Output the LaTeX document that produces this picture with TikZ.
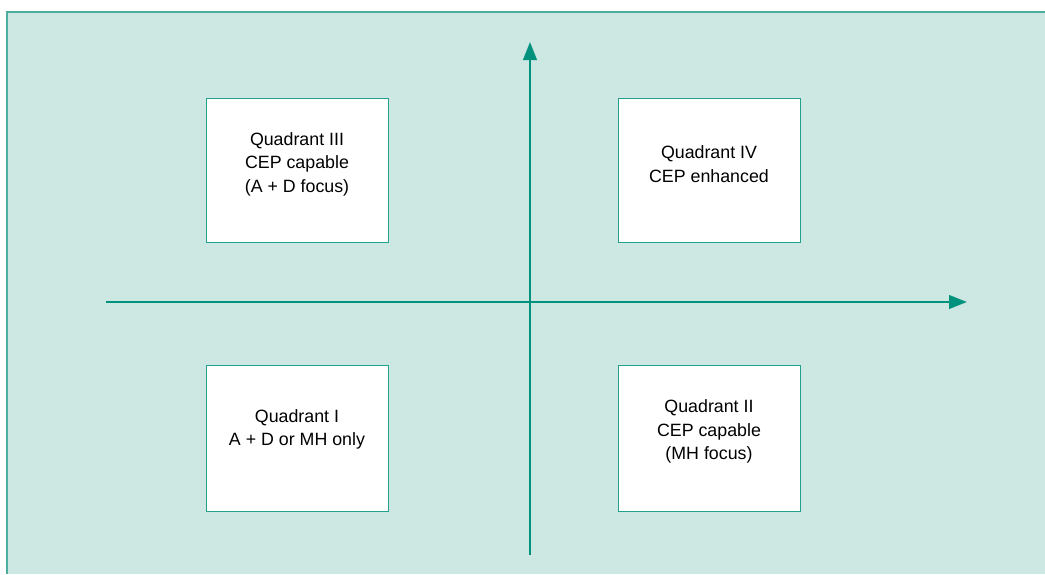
\documentclass[tikz,border=0pt]{standalone}
\usepackage{fontspec}
\setmainfont{Liberation Sans}
\usetikzlibrary{arrows.meta}
\definecolor{bgfill}{HTML}{CDE7E3}
\definecolor{bgline}{HTML}{4DAE9F}
\definecolor{boxline}{HTML}{22A08B}
\definecolor{axis}{HTML}{00927D}
\begin{document}
\begin{tikzpicture}[x=1pt,y=-1pt,
  quad/.style={draw=boxline,line width=1.4pt,fill=white,minimum width=182pt,minimum height=144pt,anchor=north west,inner sep=0pt},
  lbl/.style={align=center,font=\fontsize{17.8}{23.3}\selectfont,anchor=base,inner sep=0pt},
  ax/.style={draw=axis,line width=2.6pt,-{Triangle[length=18pt,width=13.5pt]}}]
\useasboundingbox (0,0) rectangle (1045,574);
\fill[bgfill] (7,12) rectangle (1045,574);
\draw[bgline,line width=1.8pt] (7,574) -- (7,12) -- (1045,12);
\node[quad] (q3) at (206,98) {};
\node[quad] (q4) at (618,98) {};
\node[quad,minimum height=146pt] (q1) at (206,365) {};
\node[quad,minimum height=146pt] (q2) at (618,365) {};
\node[lbl] (t3) at (297,192) {Quadrant III\\CEP capable\\(A + D focus)};
\node[lbl] (t4) at (709,182) {Quadrant IV\\CEP enhanced};
\node[lbl] (t1) at (297,445.5) {Quadrant I\\A + D or MH only};
\node[lbl] (t2) at (709,459.5) {Quadrant II\\CEP capable\\(MH focus)};
\coordinate (vb) at (530,555);
\coordinate (vt) at (530,42);
\coordinate (hl) at (106,302);
\coordinate (hr) at (967,302);
\draw[ax] (vb) -- (vt);
\draw[ax] (hl) -- (hr);
\end{tikzpicture}
\end{document}
